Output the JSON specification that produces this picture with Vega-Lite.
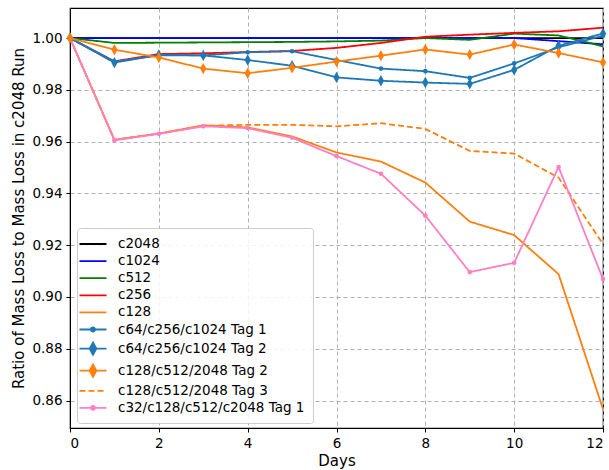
{
  "$schema": "https://vega.github.io/schema/vega-lite/v6.json",
  "width": 533,
  "height": 420,
  "autosize": "none",
  "padding": {"left": 70, "top": 8, "right": 6, "bottom": 42},
  "background": "white",
  "config": {
    "font": "DejaVu Sans",
    "view": {"stroke": "black", "strokeWidth": 1.2},
    "axis": {
      "domainColor": "black", "tickColor": "black", "labelColor": "black", "titleColor": "black",
      "labelFont": "DejaVu Sans", "titleFont": "DejaVu Sans", "labelFontSize": 13.5, "titleFontSize": 15,
      "titleFontWeight": "normal", "tickSize": 4, "labelPadding": 4,
      "gridColor": "#b0b0b0", "gridDash": [4, 3], "gridWidth": 1
    }
  },
  "datasets": {
    "series": [
      {"s":"c2048","d":0,"v":1.0},{"s":"c2048","d":1,"v":1.0},{"s":"c2048","d":2,"v":1.0},{"s":"c2048","d":3,"v":1.0},{"s":"c2048","d":4,"v":1.0},{"s":"c2048","d":5,"v":1.0},{"s":"c2048","d":6,"v":1.0},{"s":"c2048","d":7,"v":1.0},{"s":"c2048","d":8,"v":1.0},{"s":"c2048","d":9,"v":1.0},{"s":"c2048","d":10,"v":1.0},{"s":"c2048","d":11,"v":1.0},{"s":"c2048","d":12,"v":1.0},
      {"s":"c1024","d":0,"v":1.0},{"s":"c1024","d":1,"v":1.0},{"s":"c1024","d":2,"v":1.0},{"s":"c1024","d":3,"v":1.0},{"s":"c1024","d":4,"v":1.0},{"s":"c1024","d":5,"v":1.0},{"s":"c1024","d":6,"v":1.0},{"s":"c1024","d":7,"v":1.0},{"s":"c1024","d":8,"v":1.0},{"s":"c1024","d":9,"v":1.0},{"s":"c1024","d":10,"v":1.0},{"s":"c1024","d":11,"v":0.9988},{"s":"c1024","d":12,"v":0.9976},
      {"s":"c512","d":0,"v":1.0},{"s":"c512","d":1,"v":0.9981},{"s":"c512","d":2,"v":0.9982},{"s":"c512","d":3,"v":0.9983},{"s":"c512","d":4,"v":0.9984},{"s":"c512","d":5,"v":0.9985},{"s":"c512","d":6,"v":0.9987},{"s":"c512","d":7,"v":0.999},{"s":"c512","d":8,"v":1.0},{"s":"c512","d":9,"v":0.9993},{"s":"c512","d":10,"v":1.0017},{"s":"c512","d":11,"v":1.001},{"s":"c512","d":12,"v":0.9968},
      {"s":"c256","d":0,"v":1.0},{"s":"c256","d":1,"v":0.991},{"s":"c256","d":2,"v":0.9938},{"s":"c256","d":3,"v":0.9941},{"s":"c256","d":4,"v":0.9946},{"s":"c256","d":5,"v":0.995},{"s":"c256","d":6,"v":0.9962},{"s":"c256","d":7,"v":0.9981},{"s":"c256","d":8,"v":1.0005},{"s":"c256","d":9,"v":1.0013},{"s":"c256","d":10,"v":1.002},{"s":"c256","d":11,"v":1.0026},{"s":"c256","d":12,"v":1.004},
      {"s":"c128","d":0,"v":1.0},{"s":"c128","d":1,"v":0.9607},{"s":"c128","d":2,"v":0.9631},{"s":"c128","d":3,"v":0.9663},{"s":"c128","d":4,"v":0.9655},{"s":"c128","d":5,"v":0.962},{"s":"c128","d":6,"v":0.9558},{"s":"c128","d":7,"v":0.9523},{"s":"c128","d":8,"v":0.9442},{"s":"c128","d":9,"v":0.9291},{"s":"c128","d":10,"v":0.9239},{"s":"c128","d":11,"v":0.9088},{"s":"c128","d":12,"v":0.8567},
      {"s":"c64/c256/c1024 Tag 1","d":0,"v":1.0},{"s":"c64/c256/c1024 Tag 1","d":1,"v":0.9909},{"s":"c64/c256/c1024 Tag 1","d":2,"v":0.9933},{"s":"c64/c256/c1024 Tag 1","d":3,"v":0.9933},{"s":"c64/c256/c1024 Tag 1","d":4,"v":0.9945},{"s":"c64/c256/c1024 Tag 1","d":5,"v":0.9949},{"s":"c64/c256/c1024 Tag 1","d":6,"v":0.9915},{"s":"c64/c256/c1024 Tag 1","d":7,"v":0.9882},{"s":"c64/c256/c1024 Tag 1","d":8,"v":0.9872},{"s":"c64/c256/c1024 Tag 1","d":9,"v":0.9846},{"s":"c64/c256/c1024 Tag 1","d":10,"v":0.9902},{"s":"c64/c256/c1024 Tag 1","d":11,"v":0.9964},{"s":"c64/c256/c1024 Tag 1","d":12,"v":1.0009},
      {"s":"c64/c256/c1024 Tag 2","d":0,"v":1.0},{"s":"c64/c256/c1024 Tag 2","d":1,"v":0.9905},{"s":"c64/c256/c1024 Tag 2","d":2,"v":0.9935},{"s":"c64/c256/c1024 Tag 2","d":3,"v":0.9933},{"s":"c64/c256/c1024 Tag 2","d":4,"v":0.9915},{"s":"c64/c256/c1024 Tag 2","d":5,"v":0.9893},{"s":"c64/c256/c1024 Tag 2","d":6,"v":0.9848},{"s":"c64/c256/c1024 Tag 2","d":7,"v":0.9835},{"s":"c64/c256/c1024 Tag 2","d":8,"v":0.9828},{"s":"c64/c256/c1024 Tag 2","d":9,"v":0.9823},{"s":"c64/c256/c1024 Tag 2","d":10,"v":0.9877},{"s":"c64/c256/c1024 Tag 2","d":11,"v":0.997},{"s":"c64/c256/c1024 Tag 2","d":12,"v":1.0018},
      {"s":"c128/c512/2048 Tag 2","d":0,"v":1.0},{"s":"c128/c512/2048 Tag 2","d":1,"v":0.9955},{"s":"c128/c512/2048 Tag 2","d":2,"v":0.9925},{"s":"c128/c512/2048 Tag 2","d":3,"v":0.9882},{"s":"c128/c512/2048 Tag 2","d":4,"v":0.9864},{"s":"c128/c512/2048 Tag 2","d":5,"v":0.9885},{"s":"c128/c512/2048 Tag 2","d":6,"v":0.9909},{"s":"c128/c512/2048 Tag 2","d":7,"v":0.9932},{"s":"c128/c512/2048 Tag 2","d":8,"v":0.9956},{"s":"c128/c512/2048 Tag 2","d":9,"v":0.9936},{"s":"c128/c512/2048 Tag 2","d":10,"v":0.9975},{"s":"c128/c512/2048 Tag 2","d":11,"v":0.9942},{"s":"c128/c512/2048 Tag 2","d":12,"v":0.9906},
      {"s":"c128/c512/2048 Tag 3","d":0,"v":1.0},{"s":"c128/c512/2048 Tag 3","d":1,"v":0.9607},{"s":"c128/c512/2048 Tag 3","d":2,"v":0.9631},{"s":"c128/c512/2048 Tag 3","d":3,"v":0.9661},{"s":"c128/c512/2048 Tag 3","d":4,"v":0.9665},{"s":"c128/c512/2048 Tag 3","d":5,"v":0.9665},{"s":"c128/c512/2048 Tag 3","d":6,"v":0.9659},{"s":"c128/c512/2048 Tag 3","d":7,"v":0.9671},{"s":"c128/c512/2048 Tag 3","d":8,"v":0.9649},{"s":"c128/c512/2048 Tag 3","d":9,"v":0.9564},{"s":"c128/c512/2048 Tag 3","d":10,"v":0.9554},{"s":"c128/c512/2048 Tag 3","d":11,"v":0.9461},{"s":"c128/c512/2048 Tag 3","d":12,"v":0.9204},
      {"s":"c32/c128/c512/c2048 Tag 1","d":0,"v":1.0},{"s":"c32/c128/c512/c2048 Tag 1","d":1,"v":0.9605},{"s":"c32/c128/c512/c2048 Tag 1","d":2,"v":0.963},{"s":"c32/c128/c512/c2048 Tag 1","d":3,"v":0.9659},{"s":"c32/c128/c512/c2048 Tag 1","d":4,"v":0.9652},{"s":"c32/c128/c512/c2048 Tag 1","d":5,"v":0.9615},{"s":"c32/c128/c512/c2048 Tag 1","d":6,"v":0.9544},{"s":"c32/c128/c512/c2048 Tag 1","d":7,"v":0.9476},{"s":"c32/c128/c512/c2048 Tag 1","d":8,"v":0.9314},{"s":"c32/c128/c512/c2048 Tag 1","d":9,"v":0.9096},{"s":"c32/c128/c512/c2048 Tag 1","d":10,"v":0.9132},{"s":"c32/c128/c512/c2048 Tag 1","d":11,"v":0.9502},{"s":"c32/c128/c512/c2048 Tag 1","d":12,"v":0.9069}
    ]
  },
  "data": {"name": "series"},
  "encoding": {
    "x": {
      "field": "d", "type": "quantitative", "title": "Days",
      "scale": {"domain": [0, 12], "nice": false, "zero": false},
      "axis": {"values": [0, 2, 4, 6, 8, 10, 12], "format": "d", "grid": true, "titlePadding": 4}
    },
    "y": {
      "field": "v", "type": "quantitative", "title": "Ratio of Mass Loss to Mass Loss in c2048 Run",
      "scale": {"domain": [0.8494, 1.0116], "nice": false, "zero": false},
      "axis": {"values": [0.86, 0.88, 0.9, 0.92, 0.94, 0.96, 0.98, 1.0], "format": ".2f", "grid": true, "titlePadding": 5}
    },
    "color": {
      "field": "s", "type": "nominal",
      "scale": {
        "domain": ["c2048", "c1024", "c512", "c256", "c128", "c64/c256/c1024 Tag 1", "c64/c256/c1024 Tag 2", "c128/c512/2048 Tag 2", "c128/c512/2048 Tag 3", "c32/c128/c512/c2048 Tag 1"],
        "range": ["#000000", "#0000ff", "#008000", "#ff0000", "#ff7f0e", "#1f77b4", "#1f77b4", "#ff7f0e", "#ff7f0e", "#ff7fc4"]
      }
    }
  },
  "layer": [
    {
      "mark": {"type": "line", "strokeWidth": 1.8},
      "encoding": {
        "color": {
          "field": "s", "type": "nominal",
          "legend": {
            "title": null, "orient": "none", "legendX": 7, "legendY": 220,
            "symbolSize": 182, "symbolStrokeWidth": 1.8, "symbolType": "M-2,0L2,0",
            "labelFont": "DejaVu Sans", "labelFontSize": 13.5, "labelColor": "black",
            "labelOffset": 17, "rowPadding": 2.1, "padding": 8,
            "strokeColor": "#cccccc", "fillColor": "rgba(255,255,255,0.85)", "cornerRadius": 3,
            "labelLimit": 400,
            "encode": {
              "symbols": {
                "update": {
                  "fill": {"signal": "scale('color', datum.value)"},
                  "shape": {"signal": "(datum.value === 'c64/c256/c1024 Tag 1' || datum.value === 'c32/c128/c512/c2048 Tag 1') ? 'M-2,0L2,0M-0.3,0A0.3,0.3 0 1,0 0.3,0A0.3,0.3 0 1,0 -0.3,0Z' : ((datum.value === 'c64/c256/c1024 Tag 2' || datum.value === 'c128/c512/2048 Tag 2') ? 'M-2,0L2,0M0,-0.9L0.5,0L0,0.9L-0.5,0Z' : 'M-2,0L2,0')"}
                }
              }
            }
          }
        },
        "strokeDash": {
          "field": "s", "type": "nominal", "legend": null,
          "scale": {
            "domain": ["c2048", "c1024", "c512", "c256", "c128", "c64/c256/c1024 Tag 1", "c64/c256/c1024 Tag 2", "c128/c512/2048 Tag 2", "c128/c512/2048 Tag 3", "c32/c128/c512/c2048 Tag 1"],
            "range": [[1, 0], [1, 0], [1, 0], [1, 0], [1, 0], [1, 0], [1, 0], [1, 0], [6, 3], [1, 0]]
          }
        }
      }
    },
    {
      "transform": [{"filter": "datum.s === 'c64/c256/c1024 Tag 1' || datum.s === 'c32/c128/c512/c2048 Tag 1'"}],
      "mark": {"type": "circle", "size": 22, "opacity": 1},
      "encoding": {"color": {"field": "s", "type": "nominal", "legend": null}}
    },
    {
      "transform": [{"filter": "datum.s === 'c64/c256/c1024 Tag 2' || datum.s === 'c128/c512/2048 Tag 2'"}],
      "mark": {"type": "point", "shape": "M0,-1L0.55,0L0,1L-0.55,0Z", "filled": true, "size": 130, "opacity": 1},
      "encoding": {"color": {"field": "s", "type": "nominal", "legend": null}}
    }
  ]
}
